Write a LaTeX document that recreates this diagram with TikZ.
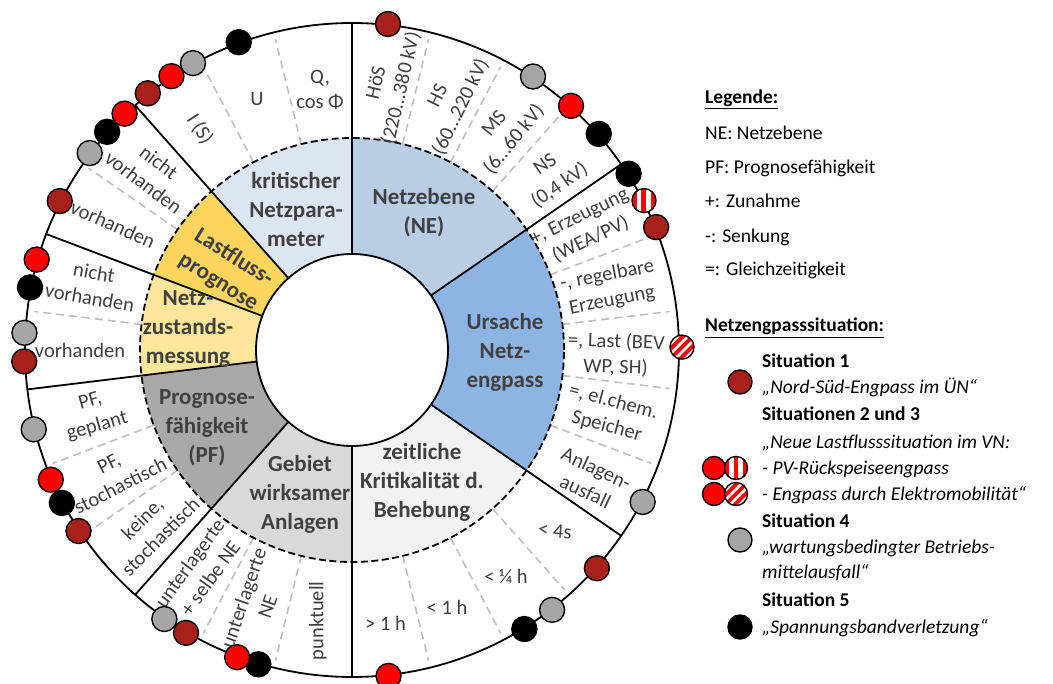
\documentclass[tikz,border=0pt]{standalone}
\usepackage{fontspec}
\setmainfont{Carlito}
\usetikzlibrary{calc}

% sector fills
\definecolor{cKN}{HTML}{DCE6F2}
\definecolor{cNE}{HTML}{B9CDE5}
\definecolor{cUR}{HTML}{8EB4E3}
\definecolor{cZK}{HTML}{F2F2F2}
\definecolor{cGW}{HTML}{D9D9D9}
\definecolor{cPF}{HTML}{A9A9A9}
\definecolor{cNZ}{HTML}{FFE699}
\definecolor{cLF}{HTML}{FFD55E}
% text and markers
\definecolor{txt}{HTML}{404040}
\definecolor{subdash}{HTML}{BFBFBF}
\definecolor{mDR}{HTML}{A8201A}
\definecolor{mRD}{HTML}{FF0000}
\definecolor{mGY}{HTML}{A6A6A6}
\definecolor{mBK}{HTML}{000000}

\tikzset{
  midlabel/.style={text=txt, align=center, font=\fontsize{23}{29}\selectfont\bfseries, inner sep=0pt},
  outlabel/.style={text=txt, align=center, font=\fontsize{20.5}{25.5}\selectfont, inner sep=0pt},
  leglabel/.style={text=black, anchor=base west, inner sep=0pt, font=\fontsize{19.5}{23}\selectfont},
  majorline/.style={line width=1.8pt, black},
  minorline/.style={line width=1.6pt, subdash, dash pattern=on 8pt off 5pt},
  ringdot/.style={draw=black, line width=1.4pt},
  vdot/.pic={
    \begin{scope}
      \clip (0,0) circle (12);
      \fill[white] (-13,-13) rectangle (13,13);
      \foreach \xx in {-9.6,0,9.6} \fill[mRD] ({\xx-2.5},-13) rectangle ({\xx+2.5},13);
    \end{scope}
    \draw[line width=1.4pt] (0,0) circle (12);
  },
  ddot/.pic={
    \begin{scope}
      \clip (0,0) circle (12);
      \fill[white] (-13,-13) rectangle (13,13);
      \begin{scope}[rotate=-45]
        \foreach \xx in {-14,-7,0,7,14} \fill[mRD] ({\xx-2},-18) rectangle ({\xx+2},18);
      \end{scope}
    \end{scope}
    \draw[line width=1.4pt] (0,0) circle (12);
  }
}

\begin{document}
\begin{tikzpicture}[x=1pt,y=1pt]
\useasboundingbox (0,0) rectangle (1053,-684);
\fill[white] (0,0) rectangle (1053,-684);

\begin{scope}[shift={(352,-350)}]
  % middle ring sectors (26 equal steps of 360/26 degrees)
  \foreach \a/\b/\c in {90/34.615/cNE, 34.615/-34.615/cUR, -34.615/-90/cZK,
      -90/-131.538/cGW, -131.538/-173.077/cPF, -173.077/-200.769/cNZ,
      -200.769/-228.462/cLF, -228.462/-270/cKN}
    \fill[\c] (\a:96) arc[start angle=\a, end angle=\b, radius=96]
      -- (\b:212) arc[start angle=\b, end angle=\a, radius=212] -- cycle;

  % sub-divisions of the outer ring
  \foreach \k in {1,2,3,5,6,7,8,10,11,12,14,15,17,18,20,22,24,25}
    \draw[minorline] ({90-\k*13.84615}:212) -- ({90-\k*13.84615}:320);

  % rings
  \draw[line width=1.8pt, dash pattern=on 7pt off 3.5pt] (0,0) circle (212);
  \draw[line width=1.8pt] (0,0) circle (327);
  \draw[line width=1.8pt, fill=white] (0,0) circle (96);

  % category borders
  \foreach \k in {0,4,9,13,16,19,21,23}
    \draw[majorline] ({90-\k*13.84615}:96) -- ({90-\k*13.84615}:327);

  % outer ring labels
  \node[outlabel, rotate=77] (o0) at (82:267) {HöS\\(220…380 kV)};
  \node[outlabel, rotate=64] (o1) at (68.5:267) {HS\\(60…220 kV)};
  \node[outlabel, rotate=51] (o2) at (55:266) {MS\\(6…60 kV)};
  \node[outlabel, rotate=35] (o3) at (41:266) {NS\\(0,4 kV)};
  \node[outlabel, rotate=26] (o4) at (27.5:263) {+, Erzeugung\\(WEA/PV)};
  \node[outlabel, rotate=11] (o5) at (13.5:265) {-, regelbare\\Erzeugung};
  \node[outlabel, rotate=-2] (o6) at (-1:264) {=, Last (BEV\\WP, SH)};
  \node[outlabel, rotate=-15] (o7) at (-14:266) {=, el.chem.\\Speicher};
  \node[outlabel, rotate=-25] (o8) at (-28.5:272) {Anlagen-\\ausfall};
  \node[outlabel, rotate=-5] (o9) at (-41.7:272) {< 4s};
  \node[outlabel] (o10) at (-55.8:274) {< ¼ h};
  \node[outlabel] (o11) at (-69.7:274) {< 1 h};
  \node[outlabel] (o12) at (-83:275) {> 1 h};
  \node[outlabel, rotate=90] (o13) at (-97.2:273) {punktuell};
  \node[outlabel, rotate=71] (o14) at (-111:270) {unterlagerte\\NE};
  \node[outlabel, rotate=54] (o15) at (-124.6:268) {unterlagerte\\+ selbe NE};
  \node[outlabel, rotate=45] (o16) at (-138.5:268) {keine,\\stochastisch};
  \node[outlabel, rotate=27] (o17) at (-152.3:268) {PF,\\stochastisch};
  \node[outlabel, rotate=16] (o18) at (-166:266) {PF,\\geplant};
  \node[outlabel] (o19) at (180:272) {vorhanden};
  \node[outlabel, rotate=-10] (o20) at (166:268) {nicht\\vorhanden};
  \node[outlabel, rotate=-24] (o21) at (152.3:270) {vorhanden};
  \node[outlabel, rotate=-37] (o22) at (138.5:268) {nicht\\vorhanden};
  \node[outlabel, rotate=-57] (o23) at (124.6:268) {I (S)};
  \node[outlabel] (o24) at (110.8:268) {U};
  \node[outlabel] (o25) at (97:262) {Q,\\cos Φ};

  % situation markers on the outer circle
  \foreach \ang/\col in {83.7/mDR, 56.5/mGY, 48.1/mRD, 41.2/mBK, 32.5/mBK}
    \draw[ringdot, fill=\col] (\ang:328) circle (12.5);
  \pic at (27.1:328) {vdot};
  \foreach \ang/\col in {22/mDR}
    \draw[ringdot, fill=\col] (\ang:328) circle (12.5);
  \pic at (0.5:330) {ddot};
  \foreach \ang/\col in {-27.6/mGY, -41.7/mDR, -52.4/mGY, -58.3/mBK, -83.6/mRD,
      -106.6/mBK, -110.5/mRD, -120.4/mDR, -124.9/mGY,
      213.5/mDR, 207.8/mBK, 203.3/mRD, 194/mGY, 182/mDR, 177/mGY,
      169/mBK, 164/mRD, 153/mDR, 143.1/mGY, 138.3/mBK, 133.9/mRD,
      128.5/mDR, 123.4/mRD, 119/mGY, 110.2/mBK}
    \draw[ringdot, fill=\col] (\ang:328) circle (12.5);
\end{scope}

% middle ring labels
\node[midlabel] (kn) at (296,-210) {kritischer\\Netzpara-\\meter};
\node[midlabel] (ne) at (424,-213) {Netzebene\\(NE)};
\node[midlabel] (ur) at (505,-352) {Ursache\\Netz-\\engpass};
\node[midlabel] (zk) at (422,-482) {zeitliche\\Kritikalität d.\\Behebung};
\node[midlabel] (gw) at (300,-494) {Gebiet\\wirksamer\\Anlagen};
\node[midlabel] (pf) at (207,-428) {Prognose-\\fähigkeit\\(PF)};
\node[midlabel] (nz) at (188,-329) {Netz-\\zustands-\\messung};
\node[midlabel, rotate=-32] (lf) at (226,-270) {Lastfluss-\\prognose};

% legend
\node[leglabel] (lg0) at (705,-104) {\textbf{\underline{Legende:}}};
\node[leglabel] (lg1) at (705,-140) {NE: Netzebene};
\node[leglabel] (lg2) at (705,-174) {PF: Prognosefähigkeit};
\node[leglabel] (lg3) at (705,-208) {+: Zunahme};
\node[leglabel] (lg4) at (705,-243) {-: Senkung};
\node[leglabel] (lg5) at (705,-276) {=: Gleichzeitigkeit};
\node[leglabel] (ls0) at (705,-332) {\textbf{\underline{Netzengpasssituation:}}};
\node[leglabel] (ls1) at (762,-368) {\textbf{Situation 1}};
\node[leglabel] (ls2) at (762,-394) {\itshape „Nord-Süd-Engpass im ÜN“};
\node[leglabel] (ls3) at (762,-421) {\textbf{Situationen 2 und 3}};
\node[leglabel] (ls4) at (762,-449) {\itshape „Neue Lastflusssituation im VN:};
\node[leglabel] (ls5) at (762,-475) {\itshape - PV-Rückspeiseengpass};
\node[leglabel] (ls6) at (762,-501) {\itshape - Engpass durch Elektromobilität“};
\node[leglabel] (ls7) at (762,-528) {\textbf{Situation 4}};
\node[leglabel] (ls8) at (762,-554) {\itshape „wartungsbedingter Betriebs-};
\node[leglabel] (ls9) at (762,-579) {\itshape mittelausfall“};
\node[leglabel] (ls10) at (762,-606) {\textbf{Situation 5}};
\node[leglabel] (ls11) at (762,-633) {\itshape „Spannungsbandverletzung“};

% legend markers
\draw[ringdot, fill=mDR] (740,-382) circle (12);
\draw[ringdot, fill=mRD] (714,-468) circle (11.5);
\pic[scale=0.96] at (736,-468) {vdot};
\draw[ringdot, fill=mRD] (714,-494) circle (11.5);
\pic[scale=0.96] at (736,-494) {ddot};
\draw[ringdot, fill=mGY] (740,-540) circle (12);
\draw[ringdot, fill=mBK] (740,-627) circle (12);
\end{tikzpicture}
\end{document}
